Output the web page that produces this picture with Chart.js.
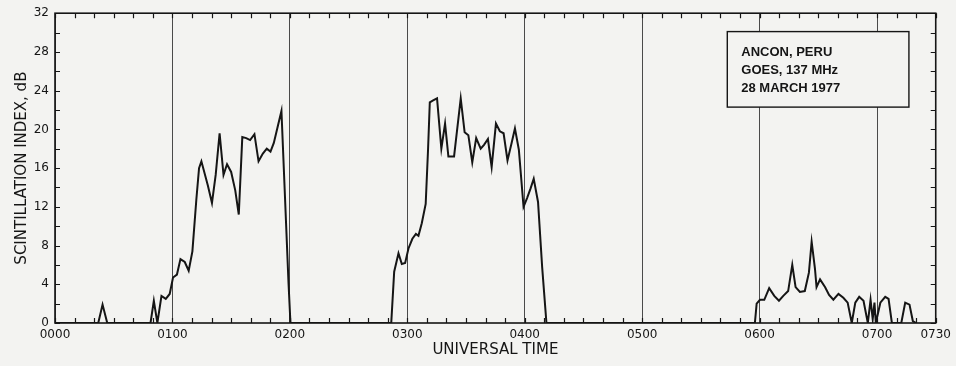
<!DOCTYPE html>
<html>
<head>
<meta charset="utf-8">
<title>Scintillation index, Ancon</title>
<script src="https://cdn.jsdelivr.net/npm/chart.js@4.4.1/dist/chart.umd.min.js"></script>
<style>
  body { margin: 0; background: #f3f3f1; }
  canvas { display: block; }
</style>
</head>
<body>
<canvas id="scintChart" width="956" height="366"></canvas>
<script>
// universal time in minutes after 0000 UT
const utMinutes = [
    0, 22.1, 24.3, 26.7, 48.8, 50.5, 52.3, 54.4, 56.6, 58.6,
    60.3, 62.3, 64.1, 66.3, 68.3, 70.2, 72.2, 73.6, 74.8, 78.1,
    80.2, 82.1, 84.1, 86.1, 87.9, 90.0, 92.1, 93.9, 95.7, 97.7,
    99.7, 101.9, 104.0, 106.2, 108.2, 110.1, 111.8, 113.8, 115.7, 119.3,
    120.3,
    171.8, 173.3, 175.5, 177.2, 178.9, 180.6, 182.6, 184.4, 185.7, 187.4,
    189.4, 190.6, 191.5, 193.2, 195.2, 197.4, 199.3, 201.0, 203.9, 207.3,
    209.3, 211.2, 213.2, 215.2, 217.5, 219.2, 221.2, 223.1, 225.3, 227.3,
    229.2, 231.2, 233.3, 235.0, 237.0, 239.4, 241.2, 243.0, 244.6, 246.8,
    248.9, 250.6, 251.1,
    357.6, 358.5, 360.2, 362.4, 364.9, 367.5, 369.9, 372.1, 374.6, 376.7,
    378.4, 380.6, 383.1, 385.2, 386.6, 388.3, 389.1, 390.9, 393.5, 395.5,
    397.7, 400.3, 402.8, 405.0, 407.1, 408.9, 410.9, 413.1, 415.3, 416.7,
    417.8, 418.7, 419.4, 421.7, 424.2, 425.9, 427.6, 432.4, 434.4, 436.6,
    438.3, 440.0
];

// scintillation index, dB
const scintDb = [
    0, 0, 1.9, 0, 0, 2.3, 0, 2.8, 2.5, 3.0,
    4.7, 5.0, 6.6, 6.3, 5.4, 7.4, 12.7, 16.0, 16.7, 14.2,
    12.4, 15.3, 19.6, 15.3, 16.4, 15.6, 13.7, 11.2, 19.2, 19.1,
    18.9, 19.5, 16.7, 17.5, 18.0, 17.7, 18.6, 20.3, 21.9, 4.2,
    0,
    0, 5.3, 7.2, 6.1, 6.2, 7.7, 8.7, 9.2, 9.0, 10.3,
    12.3, 17.9, 22.8, 23.0, 23.2, 18.0, 20.6, 17.2, 17.2, 23.2,
    19.7, 19.4, 16.6, 19.1, 18.0, 18.4, 19.0, 16.1, 20.6, 19.8,
    19.6, 16.8, 18.6, 20.1, 17.9, 12.0, 12.9, 13.9, 14.9, 12.5,
    5.8, 1.3, 0,
    0, 2.0, 2.4, 2.4, 3.6, 2.8, 2.3, 2.8, 3.3, 6.0,
    3.7, 3.2, 3.3, 5.2, 8.4, 5.6, 3.7, 4.5, 3.7, 2.9,
    2.4, 3.0, 2.6, 2.1, 0, 2.1, 2.7, 2.3, 0, 2.4,
    0.4, 2.1, 0, 2.1, 2.7, 2.5, 0, 0, 2.1, 1.9,
    0.2, 0
];

const tickMinutes = [0, 60, 120, 180, 240, 300, 360, 420, 450];
const tickLabels = ['0000', '0100', '0200', '0300', '0400', '0500', '0600', '0700', '0730'];

const noteLines = ['ANCON, PERU', 'GOES, 137 MHz', '28 MARCH 1977'];

const paper = '#f3f3f1';
const ink = '#151515';

// box outline plus the small inward ticks on all four sides
const frameTicks = {
    id: 'frameTicks',
    afterDatasetsDraw(chart) {
        const { ctx, chartArea: a, scales: { x, y } } = chart;
        ctx.save();
        ctx.strokeStyle = ink;
        ctx.lineWidth = 1.2;
        for (let m = 0; m <= 450; m += 10) {
            const px = Math.round(x.getPixelForValue(m)) + 0.5;
            ctx.beginPath();
            ctx.moveTo(px, a.bottom);
            ctx.lineTo(px, a.bottom - 5);
            ctx.moveTo(px, a.top);
            ctx.lineTo(px, a.top + 5);
            ctx.stroke();
        }
        for (let v = 0; v <= 32; v += 2) {
            const py = Math.round(y.getPixelForValue(v)) + 0.5;
            ctx.beginPath();
            ctx.moveTo(a.left, py);
            ctx.lineTo(a.left + 5, py);
            ctx.moveTo(a.right, py);
            ctx.lineTo(a.right - 5, py);
            ctx.stroke();
        }
        ctx.lineWidth = 1.6;
        ctx.strokeRect(a.left, a.top, a.right - a.left, a.bottom - a.top);
        ctx.restore();
    }
};

// station / satellite / date note in the upper right
const noteBox = {
    id: 'noteBox',
    afterDatasetsDraw(chart) {
        const { ctx, scales: { x, y } } = chart;
        const left = x.getPixelForValue(343.5);
        const right = x.getPixelForValue(436.3);
        const top = y.getPixelForValue(30.1);
        const bottom = y.getPixelForValue(22.3);
        ctx.save();
        ctx.fillStyle = paper;
        ctx.fillRect(left, top, right - left, bottom - top);
        ctx.strokeStyle = ink;
        ctx.lineWidth = 1.4;
        ctx.strokeRect(left, top, right - left, bottom - top);
        ctx.fillStyle = ink;
        ctx.font = 'bold 13px "Liberation Sans", Arial, sans-serif';
        ctx.textBaseline = 'alphabetic';
        noteLines.forEach((line, i) => {
            ctx.fillText(line, left + 14, top + 24.5 + i * 17.8);
        });
        ctx.restore();
    }
};

const bgFill = {
    id: 'bgFill',
    beforeDraw(chart) {
        const { ctx, width, height } = chart;
        ctx.save();
        ctx.fillStyle = paper;
        ctx.fillRect(0, 0, width, height);
        ctx.restore();
    }
};

const ctx = document.getElementById('scintChart').getContext('2d');
const chart = new Chart(ctx, {
    type: 'line',
    data: {
        datasets: [{
            data: utMinutes.map((m, i) => ({ x: m, y: scintDb[i] })),
            borderColor: ink,
            borderWidth: 2,
            pointRadius: 0,
            tension: 0,
            fill: false
        }]
    },
    options: {
        responsive: false,
        animation: false,
        layout: { padding: { top: 13, right: 19, left: 0, bottom: 0 } },
        plugins: {
            legend: { display: false },
            tooltip: { enabled: false }
        },
        scales: {
            x: {
                type: 'linear',
                min: 0,
                max: 450,
                afterBuildTicks: scale => {
                    scale.ticks = tickMinutes.map(v => ({ value: v }));
                },
                afterFit: scale => { scale.height = 43; },
                ticks: {
                    autoSkip: false,
                    maxRotation: 0,
                    padding: 5,
                    color: ink,
                    font: { family: '"DejaVu Sans", sans-serif', size: 12 },
                    callback: (value, index) => tickLabels[index]
                },
                grid: { color: '#4a4a4a', lineWidth: 1, drawTicks: false },
                border: { display: false },
                title: {
                    display: true,
                    text: 'UNIVERSAL TIME',
                    color: ink,
                    font: { family: '"DejaVu Sans", sans-serif', size: 15 },
                    padding: { top: 0, bottom: 7 }
                }
            },
            y: {
                min: 0,
                max: 32,
                afterFit: scale => { scale.width = 55; },
                ticks: {
                    stepSize: 4,
                    padding: 6,
                    color: ink,
                    font: { family: '"DejaVu Sans", sans-serif', size: 12 }
                },
                grid: { display: false, drawTicks: false },
                border: { display: false },
                title: {
                    display: true,
                    text: 'SCINTILLATION INDEX, dB',
                    color: ink,
                    font: { family: '"DejaVu Sans", sans-serif', size: 15 },
                    padding: { top: 13, bottom: 0 }
                }
            }
        }
    },
    plugins: [bgFill, frameTicks, noteBox]
});
</script>
</body>
</html>
